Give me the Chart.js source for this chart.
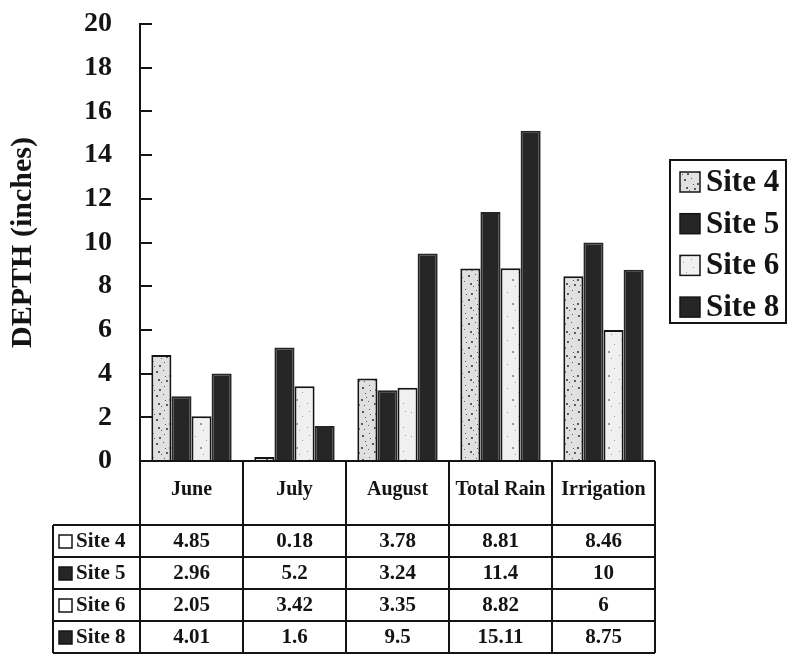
<!DOCTYPE html>
<html>
<head>
<meta charset="utf-8">
<script src="https://cdn.jsdelivr.net/npm/chart.js@4.4.0/dist/chart.umd.min.js"></script>
<style>
  html, body { margin: 0; padding: 0; background: #ffffff; }
  #wrap { width: 788px; height: 656px; }
</style>
</head>
<body>
<div id="wrap"><canvas id="c" width="788" height="656"></canvas></div>
<script>
// Monthly depths per site (inches)
const categories = ['June', 'July', 'August', 'Total Rain', 'Irrigation'];
const seriesNames = ['Site 4', 'Site 5', 'Site 6', 'Site 8'];
const site4 = [4.85, 0.18, 3.78, 8.81, 8.46];
const site5 = [2.96, 5.2, 3.24, 11.4, 10];
const site6 = [2.05, 3.42, 3.35, 8.82, 6];
const site8 = [4.01, 1.6, 9.5, 15.11, 8.75];
const yTickValues = [0, 2, 4, 6, 8, 10, 12, 14, 16, 18, 20];

const SERIF = '"Liberation Serif", "Times New Roman", serif';
const INK = '#141414';
const DARK = '#262626';

// Stippled fills for the light bars
function stipple(base, dotColor, dots) {
  const c = document.createElement('canvas');
  c.width = 24; c.height = 24;
  const g = c.getContext('2d');
  g.fillStyle = base;
  g.fillRect(0, 0, 24, 24);
  g.fillStyle = dotColor;
  dots.forEach(([x, y, s]) => g.fillRect(x, y, s, s));
  return document.getElementById('c').getContext('2d').createPattern(c, 'repeat');
}
const heavyDots = [[2,3,2],[9,1,1],[15,5,2],[20,2,1],[5,9,1],[12,11,2],[19,10,1],[1,15,2],
                   [8,17,1],[14,19,2],[21,16,1],[4,21,1],[17,22,1],[10,6,1],[22,20,2],[6,13,1]];
const lightDots = [[3,4,1],[14,8,1],[8,15,2],[19,19,1],[11,22,1],[21,3,1]];
const fillSite4 = stipple('#e0e0e0', '#5a5a5a', heavyDots);
const fillSite6 = stipple('#f0f0f0', '#9a9a9a', lightDots);

const barFills = [fillSite4, DARK, fillSite6, DARK];
const barBorders = [INK, DARK, INK, DARK];
const keyFills = ['#ffffff', DARK, '#ffffff', DARK];
const seriesValues = [site4, site5, site6, site8];

// Inward tick marks, data table beneath the plot and boxed legend
const extrasPlugin = {
  id: 'depthExtras',
  afterDraw(chart) {
    const ctx = chart.ctx;
    const area = chart.chartArea;
    const xs = chart.scales.x;
    const ys = chart.scales.y;
    ctx.save();
    ctx.strokeStyle = INK;
    ctx.lineWidth = 2;

    // tick marks pointing into the plot
    ys.ticks.forEach(t => {
      const py = Math.round(ys.getPixelForValue(t.value));
      ctx.beginPath();
      ctx.moveTo(area.left, py);
      ctx.lineTo(area.left + 12, py);
      ctx.stroke();
    });

    // table geometry from the category scale
    const step = xs.getPixelForValue(1) - xs.getPixelForValue(0);
    const bounds = [area.left];
    categories.forEach((_, i) => bounds.push(xs.getPixelForValue(i) + step / 2));
    bounds[bounds.length - 1] = area.right;
    const headTop = area.bottom;
    const headBottom = headTop + 64;
    const rowH = 32;
    const labelLeft = 53;
    const tableBottom = headBottom + rowH * seriesNames.length;

    // header row
    ctx.beginPath();
    ctx.moveTo(area.left, headTop); ctx.lineTo(area.right, headTop);
    ctx.stroke();
    // horizontal rules for body rows
    for (let r = 0; r <= seriesNames.length; r++) {
      const yy = headBottom + r * rowH;
      ctx.beginPath();
      ctx.moveTo(labelLeft, yy); ctx.lineTo(area.right, yy);
      ctx.stroke();
    }
    // vertical rules
    bounds.forEach(bx => {
      ctx.beginPath();
      ctx.moveTo(bx, headTop); ctx.lineTo(bx, tableBottom);
      ctx.stroke();
    });
    ctx.beginPath();
    ctx.moveTo(labelLeft, headBottom); ctx.lineTo(labelLeft, tableBottom);
    ctx.stroke();

    ctx.fillStyle = INK;
    ctx.textAlign = 'center';
    ctx.textBaseline = 'middle';
    ctx.font = 'bold 20px ' + SERIF;
    categories.forEach((name, i) => {
      ctx.fillText(name, (bounds[i] + bounds[i + 1]) / 2, (headTop + headBottom) / 2 - 3);
    });

    ctx.font = 'bold 21px ' + SERIF;
    seriesValues.forEach((vals, r) => {
      const cy = headBottom + r * rowH + rowH / 2 + 1;
      vals.forEach((v, i) => {
        ctx.textAlign = 'center';
        ctx.fillText(String(v), (bounds[i] + bounds[i + 1]) / 2, cy);
      });
      // row key and name
      ctx.fillStyle = keyFills[r];
      ctx.fillRect(labelLeft + 6, cy - 7, 13, 13);
      ctx.lineWidth = 1.5;
      ctx.strokeStyle = INK;
      ctx.strokeRect(labelLeft + 6, cy - 7, 13, 13);
      ctx.fillStyle = INK;
      ctx.textAlign = 'left';
      ctx.fillText(seriesNames[r], labelLeft + 23, cy);
    });

    // legend box on the right
    ctx.lineWidth = 2;
    ctx.strokeStyle = INK;
    ctx.strokeRect(670, 160, 116, 163);
    ctx.font = 'bold 31px ' + SERIF;
    ctx.textAlign = 'left';
    chart.data.datasets.forEach((ds, i) => {
      const cy = 182 + i * 41.7;
      ctx.fillStyle = ds.backgroundColor;
      ctx.fillRect(680, cy - 10, 20, 20);
      ctx.lineWidth = 1.5;
      ctx.strokeStyle = INK;
      ctx.strokeRect(680, cy - 10, 20, 20);
      ctx.fillStyle = INK;
      ctx.fillText(ds.label, 706, cy + 1);
    });
    ctx.restore();
  }
};

const chart = new Chart(document.getElementById('c'), {
  type: 'bar',
  data: {
    labels: categories,
    datasets: seriesValues.map((vals, i) => ({
      label: seriesNames[i],
      data: vals,
      backgroundColor: barFills[i],
      borderColor: barBorders[i],
      borderWidth: 2,
      categoryPercentage: 0.78,
      barPercentage: 1.0
    }))
  },
  options: {
    responsive: false,
    animation: false,
    devicePixelRatio: 1,
    layout: { padding: { left: 0, right: 133, top: 24, bottom: 195 } },
    plugins: {
      legend: { display: false },
      tooltip: { enabled: false }
    },
    scales: {
      x: {
        display: false
      },
      y: {
        min: 0,
        max: 20,
        afterFit(scale) {
          scale.width = 140;
          scale.paddingTop = 0;
          scale.paddingBottom = 0;
        },
        afterBuildTicks(scale) { scale.ticks = yTickValues.map(v => ({ value: v })); },
        ticks: {
          stepSize: 2,
          padding: 28,
          color: INK,
          font: { family: SERIF, weight: 'bold', size: 28 }
        },
        grid: { display: false, drawTicks: false },
        border: { display: true, color: INK, width: 2 },
        title: {
          display: true,
          text: 'DEPTH (inches)',
          color: INK,
          padding: { top: 5, bottom: 0 },
          font: { family: SERIF, weight: 'bold', size: 30 }
        }
      }
    }
  },
  plugins: [extrasPlugin]
});
</script>
</body>
</html>
